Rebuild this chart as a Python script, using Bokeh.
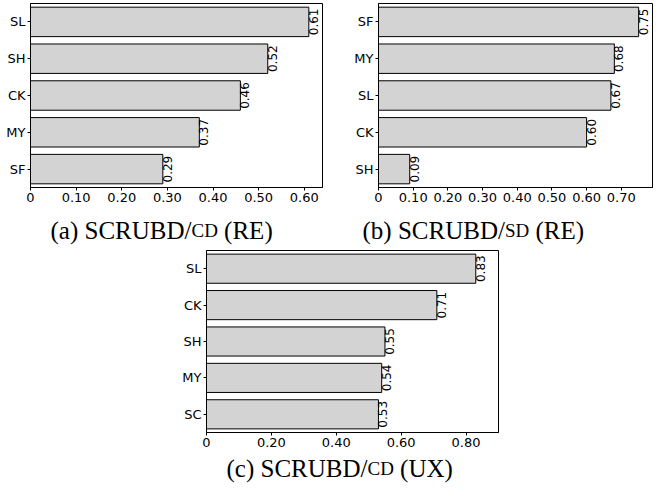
import math
from bokeh.plotting import figure
from bokeh.models import FactorRange, Range1d, FixedTicker, Spacer, ColumnDataSource
from bokeh.layouts import column, row
from bokeh.core.properties import value
from bokeh.embed import file_html
from bokeh.resources import INLINE

# ---- data (top-to-bottom order as shown) ----
cats_a = ["SL", "SH", "CK", "MY", "SF"]
vals_a = [0.61, 0.52, 0.46, 0.37, 0.29]
cats_b = ["SF", "MY", "SL", "CK", "SH"]
vals_b = [0.75, 0.68, 0.67, 0.60, 0.09]
cats_c = ["SL", "CK", "SH", "MY", "SC"]
vals_c = [0.83, 0.71, 0.55, 0.54, 0.53]

ticks_a = [0, 0.1, 0.2, 0.3, 0.4, 0.5, 0.6]
ticks_b = [0, 0.1, 0.2, 0.3, 0.4, 0.5, 0.6, 0.7]
ticks_c = [0, 0.2, 0.4, 0.6, 0.8]

cap_a = ["(a) SCRUBD/", "CD", "(RE)"]
cap_b = ["(b) SCRUBD/", "SD", "(RE)"]
cap_c = ["(c) SCRUBD/", "CD", "(UX)"]

# Times / Liberation Serif advance widths (em)
W = {"(": .333, ")": .333, "a": .444, "b": .5, "c": .444, " ": .25, "S": .556, "C": .667,
     "R": .667, "U": .722, "B": .667, "D": .722, "/": .278, "E": .611, "X": .722}


def tw(s, fs):
    return sum(W.get(ch, .5) for ch in s) * fs


SANS = "DejaVu Sans"
SERIF = "Liberation Serif"
FS_CAP = 25
FS_SC = 19
TOTAL_W = 653


def panel(cats, vals, xmax, ticks, fw, fh, bl, br, bt, bb):
    factors = list(reversed(cats))
    p = figure(y_range=FactorRange(*factors), x_range=Range1d(0, xmax),
               width=bl + fw + br, height=bt + fh + bb, title=None,
               output_backend="svg", toolbar_location=None,
               min_border_left=bl, min_border_right=br,
               min_border_top=bt, min_border_bottom=bb)
    p.xgrid.visible = False
    p.ygrid.visible = False
    p.outline_line_color = "black"
    p.outline_line_width = 1
    p.background_fill_color = "white"
    p.border_fill_color = "white"

    src = ColumnDataSource(dict(y=cats, x=vals, lab=["%.2f" % v for v in vals]))
    p.hbar(y="y", right="x", left=0, height=0.8, source=src,
           fill_color="#d3d3d3", line_color="black", line_width=1)
    p.text(x="x", y="y", text="lab", source=src, angle=math.pi / 2,
           text_align="center", text_baseline="top", x_offset=0,
           text_font=value(SANS), text_font_size="12px", text_color="black")

    for ax in (p.xaxis[0], p.yaxis[0]):
        ax.axis_line_color = "black"
        ax.major_tick_line_color = "black"
        ax.major_tick_in = 0
        ax.major_tick_out = 3
        ax.minor_tick_line_color = None
        ax.major_label_text_font = SANS
        ax.major_label_text_font_size = "13px"
        ax.major_label_text_color = "black"
        ax.major_label_standoff = 2
    p.xaxis[0].ticker = FixedTicker(ticks=ticks)
    p.xaxis[0].major_label_overrides = {t: ("0" if t == 0 else "%.2f" % t) for t in ticks}
    return p


def caption_fig(h, items):
    """items: list of (caption parts, x start px, baseline px from top)"""
    c = figure(width=TOTAL_W, height=h, x_range=Range1d(0, TOTAL_W), y_range=Range1d(0, h),
               title=None, output_backend="svg", toolbar_location=None,
               x_axis_type=None, y_axis_type=None,
               min_border=0, min_border_left=0, min_border_right=0,
               min_border_top=0, min_border_bottom=0)
    c.outline_line_color = None
    c.xgrid.visible = False
    c.ygrid.visible = False
    c.background_fill_color = "white"
    c.border_fill_color = "white"
    for cap, x0, base in items:
        y = h - base
        w1 = tw(cap[0], FS_CAP)
        w2 = tw(cap[1], FS_SC)
        ws = tw(" ", FS_CAP)
        parts = [(cap[0], x0, FS_CAP), (cap[1], x0 + w1, FS_SC), (cap[2], x0 + w1 + w2 + ws, FS_CAP)]
        for txt, xx, fs in parts:
            c.text(x=[xx], y=[y], text=[txt], text_font=value(SERIF),
                   text_font_size="%dpx" % fs, text_color="black",
                   text_align="left", text_baseline="alphabetic")
    return c


pa = panel(cats_a, vals_a, 0.64, ticks_a, 292, 184, 30, 10, 3, 22)
pb = panel(cats_b, vals_b, 0.79, ticks_b, 274, 184, 46, 1, 3, 22)
cap_top = caption_fig(38, [(cap_a, 50, 21), (cap_b, 362, 21)])
pc = panel(cats_c, vals_c, 0.90, ticks_c, 292, 182, 30, 10, 3, 22)
cap_bot = caption_fig(30, [(cap_c, 226, 13.5)])

layout = column(row(pa, pb), cap_top, row(Spacer(width=176, height=207), pc), cap_bot)

open("out.html", "w").write(file_html(layout, INLINE))
